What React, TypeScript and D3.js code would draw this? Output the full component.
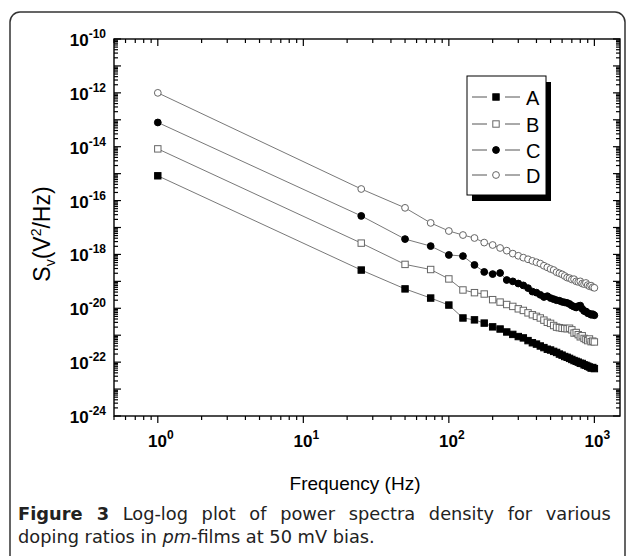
import React from "react";
import { scaleLog, line } from "d3";

// frequency of every point (Hz)
const freqs = [
  1, 25, 50, 75, 100, 125, 150, 175, 200, 225, 250, 275, 300, 325, 350, 375,
  400, 425, 450, 475, 500, 525, 550, 575, 600, 625, 650, 675, 700, 725, 750,
  775, 800, 825, 850, 875, 900, 925, 950, 975, 1000,
];

// log10 of S_v (V^2/Hz)
const logA = [
  -15.08, -18.58, -19.28, -19.62, -19.88, -20.36, -20.43, -20.55, -20.69,
  -20.77, -20.88, -20.97, -21.05, -21.1, -21.2, -21.28, -21.33, -21.4, -21.46,
  -21.52, -21.55, -21.6, -21.64, -21.7, -21.74, -21.79, -21.82, -21.86, -21.9,
  -21.94, -21.97, -22.0, -22.04, -22.05, -22.1, -22.12, -22.15, -22.18, -22.22,
  -22.2, -22.24,
];
const logB = [
  -14.08, -17.58, -18.37, -18.56, -18.91, -19.32, -19.42, -19.47, -19.68,
  -19.77, -19.86, -19.93, -20.02, -20.08, -20.17, -20.24, -20.3, -20.36, -20.44,
  -20.52, -20.56, -20.64, -20.7, -20.72, -20.74, -20.75, -20.76, -20.74, -20.8,
  -20.92, -20.9, -20.98, -21.06, -21.02, -21.12, -21.16, -21.2, -21.14, -21.24,
  -21.22, -21.25,
];
const logC = [
  -13.1, -16.57, -17.43, -17.69, -18.02, -18.06, -18.39, -18.65, -18.73,
  -18.69, -18.95, -19.0, -19.08, -19.15, -19.25, -19.38, -19.42, -19.5, -19.58,
  -19.55, -19.62, -19.66, -19.7, -19.72, -19.76, -19.78, -19.8, -19.84, -19.9,
  -19.94, -19.97, -19.92, -19.9, -20.02, -20.1, -20.12, -20.18, -20.2, -20.24,
  -20.22, -20.26,
];
const logD = [
  -12.0, -15.57, -16.27, -16.83, -17.13, -17.28, -17.39, -17.56, -17.65,
  -17.76, -17.86, -17.97, -18.05, -18.12, -18.18, -18.24, -18.29, -18.34,
  -18.42, -18.48, -18.54, -18.58, -18.66, -18.7, -18.74, -18.8, -18.86, -18.88,
  -18.93, -18.92, -19.0, -19.02, -19.0, -19.08, -19.1, -19.06, -19.14, -19.18,
  -19.16, -19.22, -19.24,
];

const seriesNames = ["A", "B", "C", "D"];
const seriesShapes = ["square", "square", "circle", "circle"];
const seriesFilled = [true, false, true, false];

const xTickExps = [0, 1, 2, 3];
const yLabelExps = [-10, -12, -14, -16, -18, -20, -22, -24];

const W = 627;
const H = 556;
const margin = { left: 114, right: 7, top: 39, bottom: 140 };
const font = "'Liberation Sans', Arial, sans-serif";
const captionFont = "'DejaVu Sans', sans-serif";

const App = () => {
  const x = scaleLog()
    .domain([0.5, 1500])
    .range([margin.left, W - margin.right]);
  const y = scaleLog()
    .domain([1e-24, 1e-10])
    .range([H - margin.bottom, margin.top]);

  const allLogs = [logA, logB, logC, logD];
  const series = allLogs.map((logs, i) => ({
    name: seriesNames[i],
    shape: seriesShapes[i],
    filled: seriesFilled[i],
    points: freqs.map((f, j) => ({ f, v: Math.pow(10, logs[j]) })),
  }));

  const path = line<{ f: number; v: number }>()
    .x((d) => x(d.f))
    .y((d) => y(d.v));

  const x0 = margin.left;
  const x1 = W - margin.right;
  const y0 = margin.top;
  const y1 = H - margin.bottom;

  // minor / major tick values
  const xTicks: { v: number; major: boolean }[] = [];
  for (let e = -1; e <= 3; e++) {
    for (let m = 1; m <= 9; m++) {
      const v = m * Math.pow(10, e);
      if (v >= 0.5 && v <= 1500) xTicks.push({ v, major: m === 1 });
    }
  }
  const yTicks: { v: number; major: boolean }[] = [];
  for (let e = -24; e <= -10; e++) {
    for (let m = 1; m <= 9; m++) {
      const v = m * Math.pow(10, e);
      if (e === -10 && m > 1) continue;
      yTicks.push({ v, major: m === 1 });
    }
  }

  const marker = (shape: string, filled: boolean, cx: number, cy: number, key: any) => {
    const fill = filled ? "#000" : "#fff";
    const stroke = filled ? "#000" : "#666";
    if (shape === "square") {
      return (
        <rect key={key} x={cx - 3.2} y={cy - 3.2} width={6.4} height={6.4}
          fill={fill} stroke={stroke} strokeWidth={1} />
      );
    }
    return <circle key={key} cx={cx} cy={cy} r={3.4} fill={fill} stroke={stroke} strokeWidth={1} />;
  };

  const legendX = 467;
  const legendY = 76;
  const legendRows = [97, 124, 150, 175];

  return (
    <svg width={W} height={H} style={{ position: "absolute", left: 0, top: 0, background: "#fff" }}>
      {/* outer figure frame */}
      <rect x={10} y={12} width={615} height={560} rx={10} fill="none" stroke="#333" strokeWidth={1.5} />

      {/* data lines */}
      {series.map((s) => (
        <path key={"l" + s.name} d={path(s.points) || ""} fill="none" stroke="#555" strokeWidth={0.8} />
      ))}
      {series.map((s) =>
        s.points.map((p, j) => marker(s.shape, s.filled, x(p.f), y(p.v), s.name + j))
      )}

      {/* axis ticks */}
      <g stroke="#000" strokeWidth={1.2}>
        {xTicks.map((t, i) => (
          <g key={"xt" + i}>
            <line x1={x(t.v)} x2={x(t.v)} y1={y1} y2={y1 + (t.major ? 7 : 4)} />
            <line x1={x(t.v)} x2={x(t.v)} y1={y0} y2={y0 + (t.major ? 7 : 4)} />
          </g>
        ))}
        {yTicks.map((t, i) => (
          <g key={"yt" + i}>
            <line x1={x0} x2={x0 + (t.major ? 7 : 4)} y1={y(t.v)} y2={y(t.v)} />
            <line x1={x1} x2={x1 - (t.major ? 7 : 4)} y1={y(t.v)} y2={y(t.v)} />
          </g>
        ))}
      </g>
      <rect x={x0} y={y0} width={x1 - x0} height={y1 - y0} fill="none" stroke="#000" strokeWidth={1.4} />

      {/* tick labels */}
      {xTickExps.map((e) => (
        <text key={"xl" + e} x={x(Math.pow(10, e)) + 3} y={447} textAnchor="middle"
          fontFamily={font} fontWeight="bold" fontSize={17}>
          10<tspan fontSize={12} dy={-8}>{e}</tspan>
        </text>
      ))}
      {yLabelExps.map((e) => (
        <text key={"yl" + e} x={106} y={y(Math.pow(10, e)) + 7} textAnchor="end"
          fontFamily={font} fontWeight="bold" fontSize={17}>
          10<tspan fontSize={12} dy={-8}>{e}</tspan>
        </text>
      ))}

      {/* axis titles */}
      <text x={355} y={490} textAnchor="middle" fontFamily={font} fontSize={19}>
        Frequency (Hz)
      </text>
      <text transform={`translate(50, 234) rotate(-90)`} textAnchor="middle" fontFamily={font} fontSize={23}>
        S<tspan fontSize={14} dy={5}>v</tspan>
        <tspan dy={-5}>(V</tspan>
        <tspan fontSize={14} dy={-9}>2</tspan>
        <tspan dy={9}>/Hz)</tspan>
      </text>

      {/* legend */}
      <rect x={legendX + 5} y={legendY + 6} width={79} height={119} fill="#000" />
      <rect x={legendX} y={legendY} width={79} height={119} fill="#fff" stroke="#000" strokeWidth={1} />
      {series.map((s, i) => (
        <g key={"lg" + s.name}>
          <line x1={472} x2={487} y1={legendRows[i]} y2={legendRows[i]} stroke="#555" strokeWidth={1} />
          <line x1={505} x2={520} y1={legendRows[i]} y2={legendRows[i]} stroke="#555" strokeWidth={1} />
          {marker(s.shape, s.filled, 496, legendRows[i], "lm" + i)}
          <text x={526} y={legendRows[i] + 7.5} fontFamily={font} fontSize={20}>
            {s.name}
          </text>
        </g>
      ))}

      {/* caption */}
      <text x={18} y={520} fontFamily={captionFont} fontSize={17.8} fill="#222" wordSpacing={8}>
        <tspan fontWeight="bold">Figure 3</tspan> Log-log plot of power spectra density for various
      </text>
      <text x={18} y={543} fontFamily={captionFont} fontSize={17.8} fill="#222">
        doping ratios in <tspan fontStyle="italic">pm</tspan>-films at 50 mV bias.
      </text>
    </svg>
  );
};

export default App;
